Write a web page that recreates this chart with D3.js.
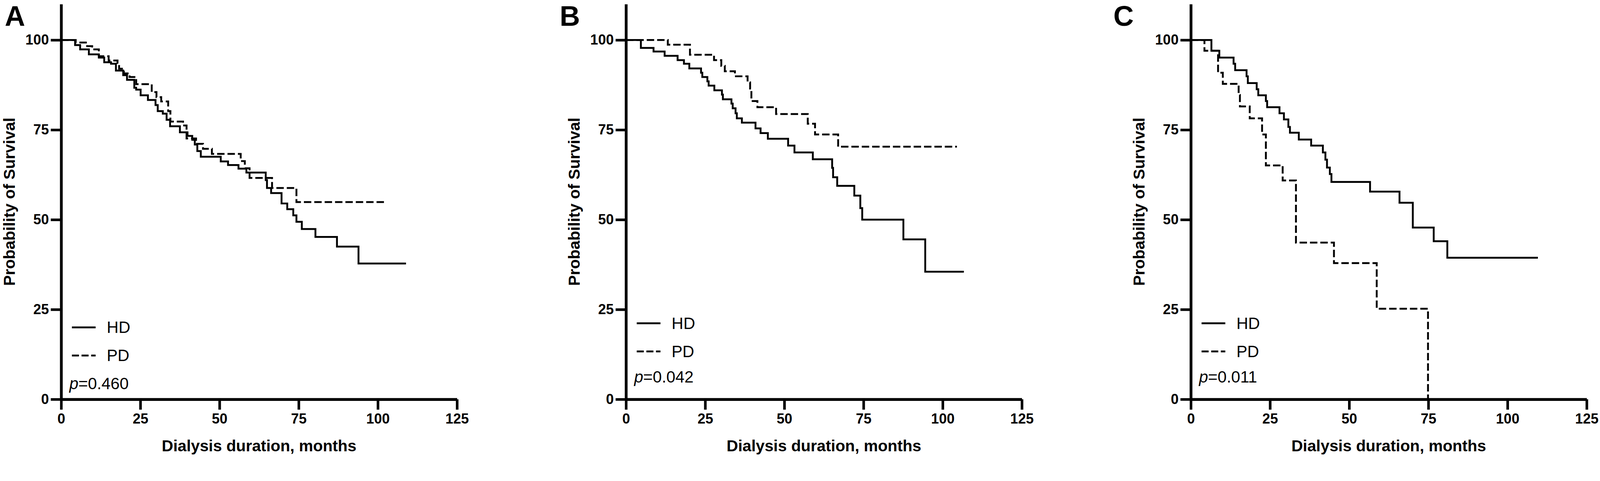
<!DOCTYPE html>
<html>
<head>
<meta charset="utf-8">
<title>Survival HD vs PD</title>
<script src="https://d3js.org/d3.v7.min.js"></script>
<style>
  html, body { margin: 0; padding: 0; background: #fff; overflow: hidden; }
  svg { display: block; }
  text { font-family: "Liberation Sans", Arial, sans-serif; fill: #000; }
</style>
</head>
<body>
<script>
// data: [month, survival %] where the curve steps to this value
var panelLabels = ['A', 'B', 'C'];
var pValues = ['0.460', '0.042', '0.011'];
var groups = ['HD', 'PD'];
var xTicks = [0, 25, 50, 75, 100, 125];
var yTicks = [0, 25, 50, 75, 100];

var hdA = [[0,100],[4.4,98.6],[6.0,97.4],[8.75,96.0],[11.9,95.1],[13.6,93.8],[15.75,93.4],[17.3,91.5],
  [19.6,90.2],[20.8,88.9],[23.1,86.7],[23.7,86.2],[25.1,84.6],[27.4,83.3],[29.8,81.9],[30.5,80.2],
  [32.1,79.5],[33.3,77.8],[34.4,76.0],[37.5,74.3],[39.9,73.3],[41.4,72.2],[42.2,70.9],[43.0,69.1],
  [44.1,67.5],[50.4,66.2],[52.7,65.2],[56.0,64.2],[58.5,63.1],[64.6,61.0],[65.0,58.8],[66.3,57.4],
  [69.6,54.5],[71.4,52.9],[73.3,51.2],[74.3,49.4],[76.0,47.4],[80.3,45.2],[87.1,42.5],[93.9,37.8],[108.9,37.8]];
var pdA = [[0,100],[4.6,99.3],[8.2,98.3],[9.8,97.4],[11.9,95.5],[15.0,94.3],[17.8,93.6],[18.3,92.0],
  [19.8,90.7],[21.6,89.7],[23.7,87.7],[28.6,85.5],[30.1,84.1],[31.6,82.9],[33.8,80.2],[34.5,77.3],
  [38.5,76.2],[39.6,72.6],[42.6,71.1],[44.8,69.7],[47.6,68.3],[56.7,66.3],[58.0,64.3],[59.5,61.6],
  [66.6,58.8],[74.3,54.9],[102.7,54.9]];

var hdB = [[0,100],[4.7,97.8],[8.7,96.8],[12.2,95.6],[16.3,94.4],[18.3,93.4],[20.0,92.1],[23.7,90.9],
  [24.1,89.7],[25.7,88.5],[26.1,87.3],[27.9,86.0],[30.3,84.8],[30.6,83.5],[33.3,82.3],[33.7,81.0],
  [34.6,79.6],[35.0,78.2],[36.6,77.0],[40.9,75.4],[42.5,74.1],[44.8,72.5],[51.2,70.6],[53.2,68.7],
  [59.0,66.8],[65.1,64.4],[65.4,61.8],[66.7,59.4],[72.1,56.7],[74.0,53.2],[74.6,50.0],[87.6,44.5],
  [94.5,35.5],[106.7,35.5]];
var pdB = [[0,100],[13.2,98.7],[20.2,95.9],[27.8,94.4],[30.1,92.8],[31.2,91.3],[34.4,89.9],[38.4,88.2],
  [39.2,86.5],[39.6,83.0],[41.5,81.3],[47.4,79.4],[57.4,76.7],[59.7,73.7],[67.0,70.3],[104.5,70.3]];

var hdC = [[0,100],[6.5,97.0],[9.0,95.1],[13.5,93.4],[14.0,91.6],[17.6,89.9],[18.0,88.0],[20.8,86.3],
  [21.3,84.6],[23.7,83.0],[24.1,81.3],[28.0,79.6],[29.4,77.9],[30.8,75.8],[31.3,74.2],[34.1,72.3],
  [38.0,70.6],[41.7,68.7],[42.5,66.7],[43.0,64.5],[43.9,62.7],[44.4,60.5],[56.6,57.8],[65.9,54.7],
  [70.1,47.8],[76.7,44.0],[81.0,39.4],[109.6,39.4]];
var pdC = [[0,100],[4.3,97.0],[8.6,90.9],[10.1,87.8],[15.1,84.7],[15.5,81.5],[18.6,78.2],[22.5,73.7],
  [23.7,65.1],[29.0,60.9],[33.2,43.6],[45.2,37.9],[58.7,25.2],[74.9,0]];

var seriesByPanel = [[hdA, pdA], [hdB, pdB], [hdC, pdC]];

// layout (drawn in a 4317 x 1231 box, scaled to the window)
var width = 4317, height = 1231;
var originX = [165, 1689, 3213];
var plotW = 1068;
var letterX = [13, 1510, 3004];
var legendY = [883, 872, 872];
var pY = [1050, 1032, 1032];
var dash = '20,8';

var svg = d3.select('body').append('svg')
  .attr('viewBox', '0 0 ' + width + ' ' + height)
  .attr('preserveAspectRatio', 'xMinYMin meet')
  .style('width', '100vw')
  .style('height', '100vh');

var x = d3.scaleLinear().domain([0, 125]).range([0, plotW]);
var y = d3.scaleLinear().domain([0, 110]).range([1077, 11]);

var line = d3.line()
  .x(function(d){ return x(d[0]); })
  .y(function(d){ return y(d[1]); })
  .curve(d3.curveStepAfter);

panelLabels.forEach(function(label, i){
  var g = svg.append('g').attr('transform', 'translate(' + originX[i] + ',0)');

  // panel letter
  svg.append('text')
    .attr('x', letterX[i]).attr('y', 70)
    .attr('font-size', 76).attr('font-weight', 'bold')
    .text(label);

  // axes
  var yAxis = g.append('g')
    .call(d3.axisLeft(y).tickValues(yTicks).tickSize(28).tickSizeOuter(0).tickPadding(5));
  var xAxis = g.append('g')
    .attr('transform', 'translate(0,' + y(0) + ')')
    .call(d3.axisBottom(x).tickValues(xTicks).tickSize(28).tickSizeOuter(0).tickPadding(11));

  [yAxis, xAxis].forEach(function(a){
    a.select('.domain').attr('stroke', '#000').attr('stroke-width', 7.5);
    a.selectAll('.tick line').attr('stroke', '#000').attr('stroke-width', 7);
    a.selectAll('.tick text')
      .attr('font-size', 38).attr('font-weight', 'bold')
      .attr('font-family', '"Liberation Sans", Arial, sans-serif')
      .attr('fill', '#000');
  });

  // axis titles
  g.append('text')
    .attr('x', plotW / 2).attr('y', 1217)
    .attr('text-anchor', 'middle')
    .attr('font-size', 43).attr('font-weight', 'bold')
    .text('Dialysis duration, months');
  g.append('text')
    .attr('transform', 'translate(-125,' + ((y(0) + y(110)) / 2) + ') rotate(-90)')
    .attr('text-anchor', 'middle')
    .attr('font-size', 43).attr('font-weight', 'bold')
    .text('Probability of Survival');

  // survival curves
  g.selectAll('path.km')
    .data(seriesByPanel[i])
    .enter().append('path')
    .attr('class', 'km')
    .attr('fill', 'none')
    .attr('stroke', '#000')
    .attr('stroke-width', 5)
    .attr('stroke-dasharray', function(d, k){ return k === 1 ? dash : null; })
    .attr('d', line);

  // legend
  var lg = g.selectAll('g.leg')
    .data(groups)
    .enter().append('g')
    .attr('class', 'leg')
    .attr('transform', function(d, k){ return 'translate(0,' + (legendY[i] + k * 76) + ')'; });
  lg.append('line')
    .attr('x1', 29).attr('x2', 93)
    .attr('stroke', '#000').attr('stroke-width', 5)
    .attr('stroke-dasharray', function(d, k){ return k === 1 ? '19,7' : null; });
  lg.append('text')
    .attr('x', 123).attr('y', 15)
    .attr('font-size', 44)
    .text(function(d){ return d; });

  // p value
  var pt = g.append('text')
    .attr('x', 22).attr('y', pY[i])
    .attr('font-size', 44);
  pt.append('tspan').attr('font-style', 'italic').text('p');
  pt.append('tspan').text('=' + pValues[i]);
});
</script>
</body>
</html>
